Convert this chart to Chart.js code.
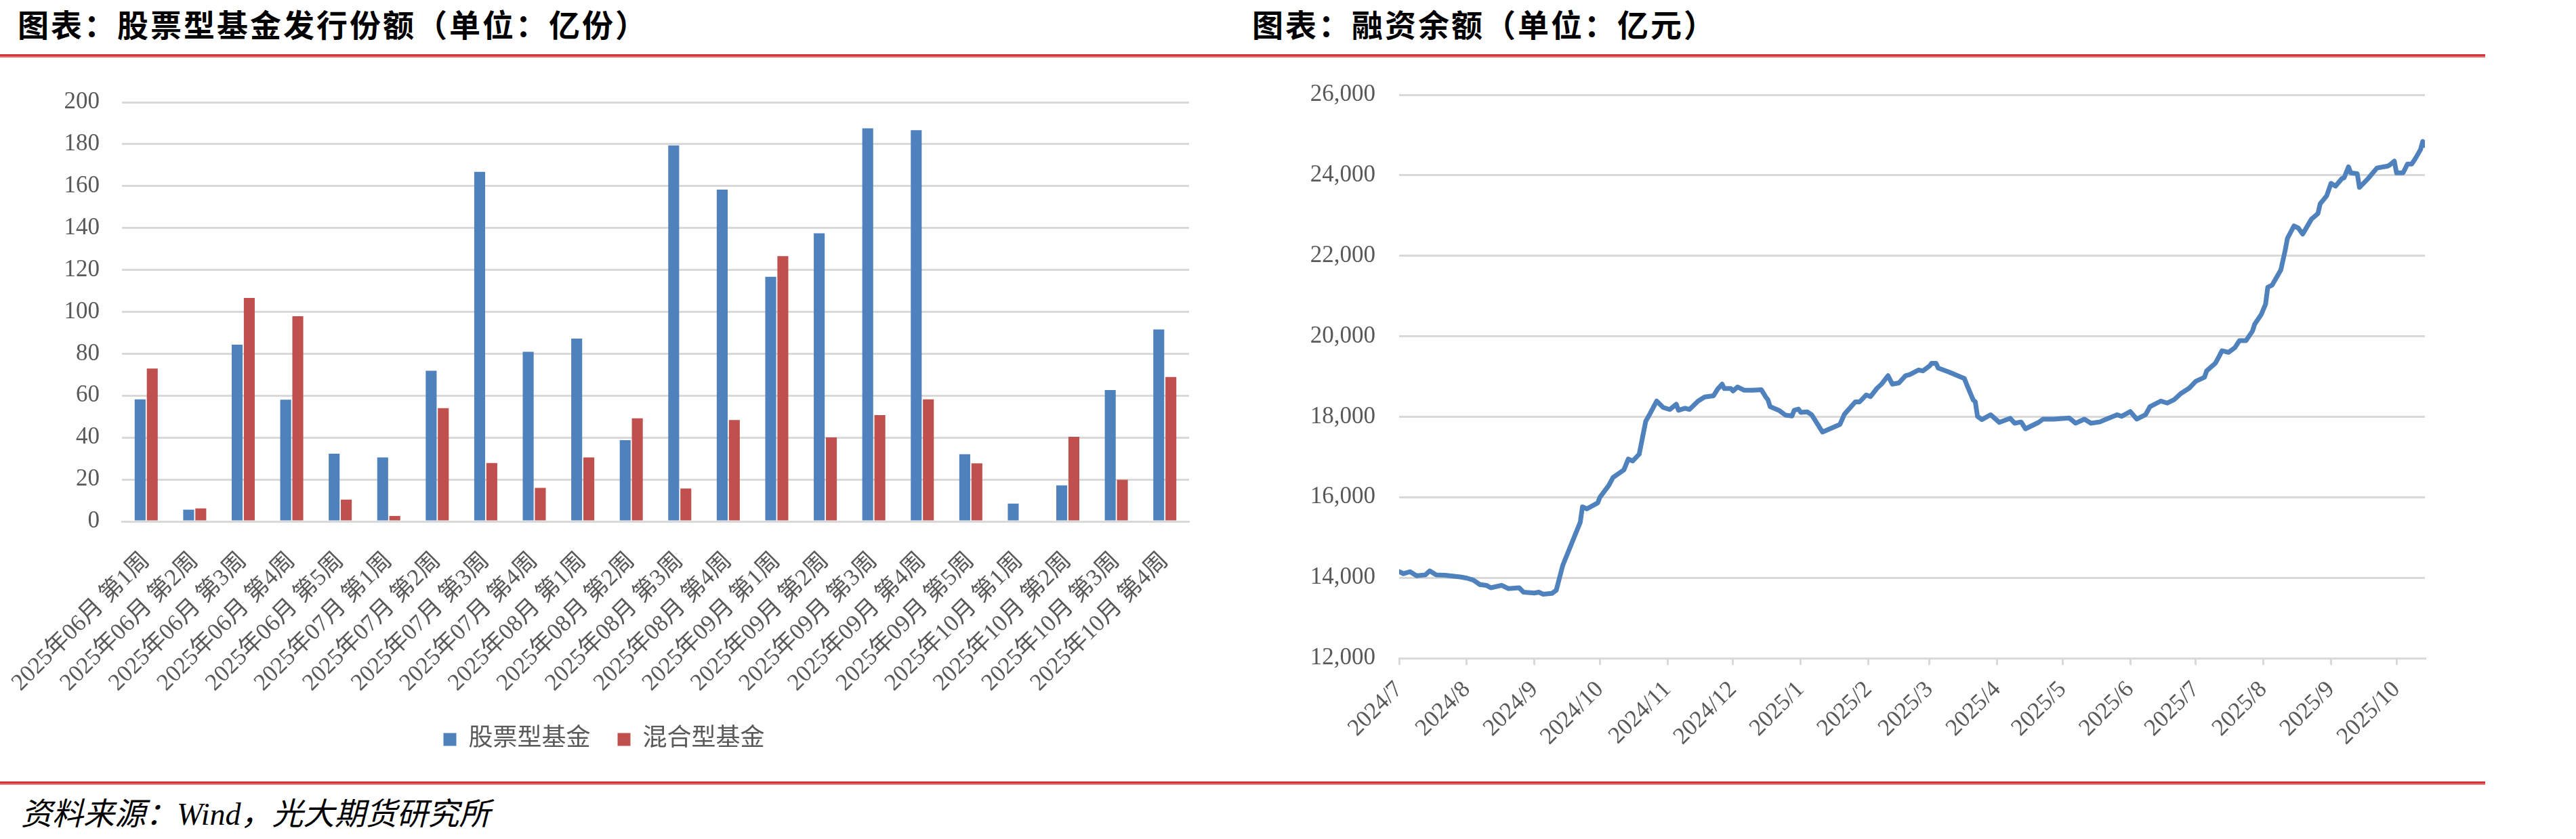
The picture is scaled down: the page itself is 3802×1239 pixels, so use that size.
<!DOCTYPE html>
<html lang="zh">
<head>
  <meta charset="UTF-8" />
  <title>股票型基金发行份额 / 融资余额</title>
  <script src="https://cdn.jsdelivr.net/npm/chart.js"></script>
  <style>
    body {
      margin: 0;
      width: 3802px;
      height: 1239px;
      background: #fff;
      position: relative;
      overflow: hidden;
    }

    .title {
      position: absolute;
      top: 10px;
      font-family: 'Noto Sans CJK SC', sans-serif;
      font-weight: 700;
      font-size: 46px;
      line-height: 48px;
      letter-spacing: 3px;
      color: #000;
      white-space: nowrap;
    }

    .rule {
      position: absolute;
      left: 0;
      width: 3668px;
      height: 3px;
      background: #d2363c;
      border-bottom: 2px solid #e8777a;
    }

    .source {
      position: absolute;
      left: 31px;
      top: 1175px;
      font-family: 'Liberation Serif', 'Noto Sans CJK SC', serif;
      font-style: italic;
      font-size: 46px;
      line-height: 56px;
      color: #000;
      white-space: nowrap;
    }

    canvas {
      position: absolute;
    }
  </style>
</head>
<body>
  <div class="title" style="left: 26px;">图表：股票型基金发行份额（单位：亿份）</div>
  <div class="title" style="left: 1848px;">图表：融资余额（单位：亿元）</div>
  <div class="rule" style="top: 80px;"></div>

  <canvas id="fund-chart" width="1800" height="1040" style="left: 0; top: 100px;"></canvas>
  <canvas id="margin-chart" width="1800" height="1040" style="left: 1850px; top: 100px;"></canvas>

  <div class="rule" style="top: 1154px;"></div>
  <div class="source">资料来源：Wind，光大期货研究所</div>

  <script>
    // left chart: weekly issuance (亿份)
    const fundWeeks = [
      '2025年06月 第1周', '2025年06月 第2周', '2025年06月 第3周', '2025年06月 第4周', '2025年06月 第5周',
      '2025年07月 第1周', '2025年07月 第2周', '2025年07月 第3周', '2025年07月 第4周',
      '2025年08月 第1周', '2025年08月 第2周', '2025年08月 第3周', '2025年08月 第4周',
      '2025年09月 第1周', '2025年09月 第2周', '2025年09月 第3周', '2025年09月 第4周', '2025年09月 第5周',
      '2025年10月 第1周', '2025年10月 第2周', '2025年10月 第3周', '2025年10月 第4周'
    ];
    const stockFund = [58.2, 5.6, 84.3, 58.1, 32.3, 30.5, 71.9, 166.8, 80.9, 87.2, 38.8,
                       179.4, 158.3, 116.7, 137.5, 187.6, 186.7, 32.1, 8.5, 17.2, 62.7, 91.6];
    const hybridFund = [72.9, 6.2, 106.6, 97.9, 10.4, 2.6, 54.0, 27.9, 16.0, 30.5, 49.2,
                        15.7, 48.4, 126.6, 40.1, 50.7, 58.2, 27.7, 0, 40.4, 19.9, 68.9];
    const fundTicks = [0, 20, 40, 60, 80, 100, 120, 140, 160, 180, 200];

    // right chart: margin financing balance (亿元)
    const marginDates = [
      '2024-07-01', '2024-07-03', '2024-07-06', '2024-07-09', '2024-07-13', '2024-07-15', '2024-07-18', '2024-07-22',
      '2024-07-29', '2024-08-01', '2024-08-04', '2024-08-07', '2024-08-10', '2024-08-12', '2024-08-17', '2024-08-20',
      '2024-08-25', '2024-08-27', '2024-09-01', '2024-09-03', '2024-09-05', '2024-09-09', '2024-09-11', '2024-09-14',
      '2024-09-22', '2024-09-23', '2024-09-25', '2024-09-30', '2024-10-01', '2024-10-05', '2024-10-07', '2024-10-12',
      '2024-10-14', '2024-10-16', '2024-10-19', '2024-10-22', '2024-10-24', '2024-10-27', '2024-10-30', '2024-11-02',
      '2024-11-05', '2024-11-06', '2024-11-09', '2024-11-11', '2024-11-15', '2024-11-18', '2024-11-22', '2024-11-24',
      '2024-11-26', '2024-11-27', '2024-11-30', '2024-12-01', '2024-12-03', '2024-12-06', '2024-12-10', '2024-12-14',
      '2024-12-16', '2024-12-17', '2024-12-18', '2024-12-22', '2024-12-25', '2024-12-28', '2024-12-29', '2024-12-31',
      '2025-01-01', '2025-01-04', '2025-01-06', '2025-01-11', '2025-01-19', '2025-01-21', '2025-01-26', '2025-01-28',
      '2025-01-31', '2025-02-02', '2025-02-05', '2025-02-07', '2025-02-10', '2025-02-12', '2025-02-15', '2025-02-18',
      '2025-02-20', '2025-02-24', '2025-02-26', '2025-03-01', '2025-03-02', '2025-03-04', '2025-03-05', '2025-03-10',
      '2025-03-17', '2025-03-18', '2025-03-21', '2025-03-22', '2025-03-23', '2025-03-25', '2025-03-29', '2025-04-02',
      '2025-04-07', '2025-04-09', '2025-04-12', '2025-04-14', '2025-04-20', '2025-04-22', '2025-04-27', '2025-05-04',
      '2025-05-07', '2025-05-11', '2025-05-14', '2025-05-18', '2025-05-21', '2025-05-26', '2025-05-28', '2025-06-01',
      '2025-06-04', '2025-06-08', '2025-06-10', '2025-06-15', '2025-06-18', '2025-06-21', '2025-06-24', '2025-06-28',
      '2025-07-01', '2025-07-05', '2025-07-06', '2025-07-10', '2025-07-12', '2025-07-13', '2025-07-16', '2025-07-19',
      '2025-07-21', '2025-07-24', '2025-07-27', '2025-07-28', '2025-07-31', '2025-08-02', '2025-08-03', '2025-08-05',
      '2025-08-09', '2025-08-11', '2025-08-12', '2025-08-15', '2025-08-17', '2025-08-19', '2025-08-23', '2025-08-26',
      '2025-08-27', '2025-08-30', '2025-09-01', '2025-09-03', '2025-09-06', '2025-09-07', '2025-09-09', '2025-09-10',
      '2025-09-13', '2025-09-14', '2025-09-18', '2025-09-22', '2025-09-27', '2025-09-28', '2025-09-30', '2025-10-01',
      '2025-10-04', '2025-10-06', '2025-10-08', '2025-10-10', '2025-10-12', '2025-10-13', '2025-10-14'
    ];
    const marginBalance = [
      14150, 14100, 14150, 14050, 14070, 14170, 14070, 14060,
      14020, 13990, 13940, 13830, 13810, 13750, 13810, 13730,
      13750, 13640, 13620, 13640, 13590, 13610, 13690, 14310,
      15380, 15760, 15710, 15860, 16000, 16290, 16490, 16680,
      16950, 16900, 17070, 17890, 18080, 18390, 18230, 18180,
      18310, 18160, 18210, 18180, 18390, 18490, 18520, 18690,
      18810, 18700, 18700, 18640, 18740, 18660, 18660, 18670,
      18490, 18420, 18250, 18160, 18040, 18020, 18160, 18190,
      18110, 18120, 18050, 17620, 17810, 18060, 18370, 18370,
      18540, 18500, 18710, 18810, 19020, 18810, 18840, 19020,
      19050, 19160, 19140, 19260, 19330, 19330, 19210, 19110,
      18950, 18810, 18420, 18370, 18010, 17930, 18050, 17860,
      17960, 17840, 17870, 17700, 17860, 17940, 17940, 17970,
      17840, 17940, 17840, 17870, 17940, 18050, 18010, 18130,
      17940, 18050, 18250, 18390, 18340, 18420, 18570, 18710,
      18880, 18980, 19140, 19330, 19530, 19640, 19600, 19720,
      19890, 19890, 20130, 20300, 20540, 20800, 21220, 21270,
      21650, 22140, 22430, 22740, 22690, 22540, 22910, 23050,
      23290, 23490, 23800, 23730, 23920, 23940, 24210, 24060,
      24040, 23700, 23920, 24180, 24230, 24260, 24350, 24060,
      24060, 24280, 24280, 24450, 24640, 24840, 24740
    ];
    const marginMonths = ['2024/7', '2024/8', '2024/9', '2024/10', '2024/11', '2024/12', '2025/1', '2025/2',
                          '2025/3', '2025/4', '2025/5', '2025/6', '2025/7', '2025/8', '2025/9', '2025/10'];
    const marginTicks = [12000, 14000, 16000, 18000, 20000, 22000, 24000, 26000];

    const serif = "'Liberation Serif', 'Noto Sans CJK SC', serif";
    const gray = '#595959';
    const gridGray = '#d9d9d9';

    Chart.defaults.font.family = serif;
    Chart.defaults.color = gray;

    // y axes: fixed width, and no extra top/bottom padding from the tick labels
    const fixY = w => s => { s.width = w; s.paddingTop = 0; s.paddingBottom = 0; };

    // -------- left: bar chart --------
    new Chart(document.getElementById('fund-chart'), {
      type: 'bar',
      data: {
        labels: fundWeeks,
        datasets: [
          { label: '股票型基金', data: stockFund, backgroundColor: '#4f81bd', borderWidth: 0,
            categoryPercentage: 0.5, barPercentage: 0.9 },
          { label: '混合型基金', data: hybridFund, backgroundColor: '#c0504d', borderWidth: 0,
            categoryPercentage: 0.5, barPercentage: 0.9 }
        ]
      },
      options: {
        responsive: false,
        animation: false,
        layout: { padding: { left: 28, right: 45, top: 51, bottom: 20 } },
        plugins: {
          legend: {
            position: 'bottom',
            labels: { boxWidth: 19, boxHeight: 19, padding: 40, color: gray,
                      font: { size: 36, family: serif } }
          },
          tooltip: { enabled: false }
        },
        scales: {
          x: {
            grid: { display: false },
            border: { color: gridGray, width: 3 },
            ticks: { autoSkip: false, maxRotation: 45, minRotation: 45, padding: 30,
                     font: { size: 35 } },
            afterFit: s => { s.height = 264; s.paddingLeft = 0; s.paddingRight = 0; }
          },
          y: {
            min: 0,
            max: 200,
            afterBuildTicks: s => { s.ticks = fundTicks.map(v => ({ value: v })); },
            grid: { color: gridGray, lineWidth: 3, drawTicks: false },
            border: { display: false },
            ticks: { padding: 33, font: { size: 35 } },
            afterFit: fixY(152)
          }
        }
      }
    });

    // -------- right: line chart --------
    const DAY = 86400000;
    const day0 = Date.UTC(2024, 6, 1);
    const toDay = (y, m, d) => Math.round((Date.UTC(y, m - 1, d) - day0) / DAY);
    const marginPoints = marginDates.map((s, i) => {
      const [y, m, d] = s.split('-').map(Number);
      return { x: toDay(y, m, d), y: marginBalance[i] };
    });
    const monthDays = marginMonths.map(s => {
      const [y, m] = s.split('/').map(Number);
      return toDay(y, m, 1);
    });

    new Chart(document.getElementById('margin-chart'), {
      type: 'line',
      data: {
        datasets: [{
          label: '融资余额',
          data: marginPoints,
          borderColor: '#4f81bd',
          borderWidth: 7,
          pointRadius: 0,
          tension: 0,
          borderJoinStyle: 'round',
          borderCapStyle: 'round'
        }]
      },
      options: {
        responsive: false,
        animation: false,
        layout: { padding: { left: 0, right: 71, top: 40, bottom: 0 } },
        plugins: { legend: { display: false }, tooltip: { enabled: false } },
        scales: {
          x: {
            type: 'linear',
            min: 0,
            max: 470,
            afterBuildTicks: s => { s.ticks = monthDays.map(v => ({ value: v })); },
            grid: { drawOnChartArea: false, color: gridGray, lineWidth: 3, tickLength: 10 },
            border: { color: gridGray, width: 3 },
            ticks: { autoSkip: false, maxRotation: 45, minRotation: 45, padding: 16,
                     font: { size: 35 },
                     callback: (v, i) => marginMonths[i] },
            afterFit: s => { s.height = 168; s.paddingLeft = 0; s.paddingRight = 0; }
          },
          y: {
            min: 12000,
            max: 26000,
            afterBuildTicks: s => { s.ticks = marginTicks.map(v => ({ value: v })); },
            grid: { color: gridGray, lineWidth: 3, drawTicks: false },
            border: { display: false },
            ticks: { padding: 35, font: { size: 35 },
                     callback: v => v.toLocaleString('en-US') },
            afterFit: fixY(215)
          }
        }
      }
    });
  </script>
</body>
</html>
